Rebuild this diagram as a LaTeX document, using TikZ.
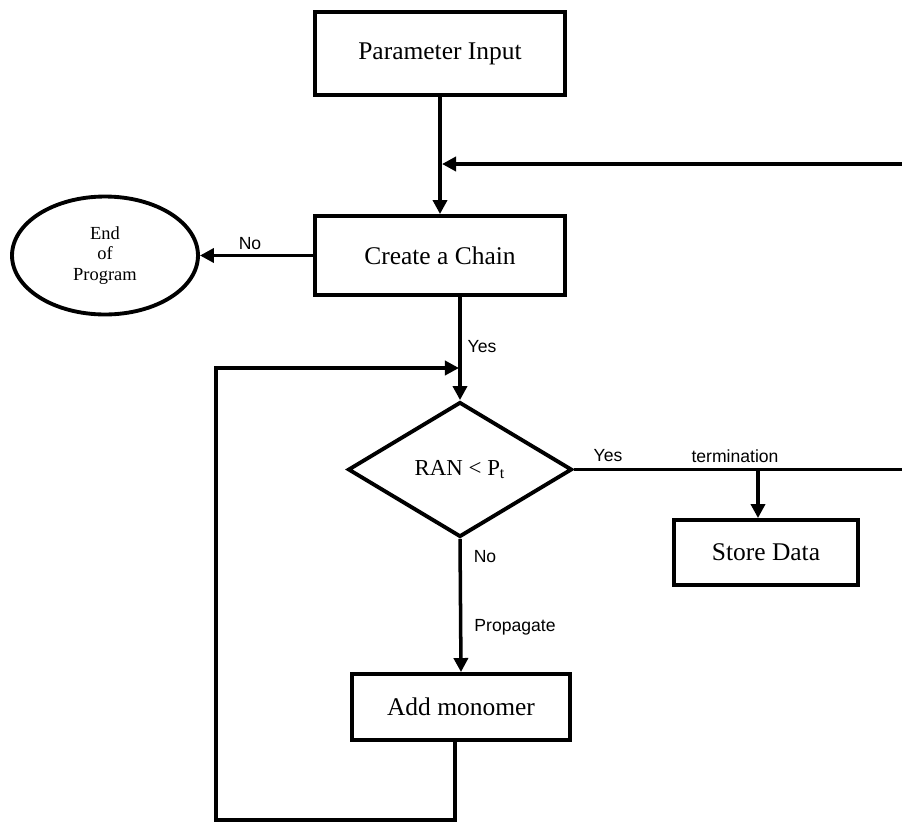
\documentclass[tikz,border=0pt]{standalone}
\usepackage{fontspec}
\setmainfont{Liberation Serif}
\newfontfamily\labelfont{Liberation Sans}
\usetikzlibrary{shapes.geometric,arrows.meta}
\begin{document}
\begin{tikzpicture}[x=0.02cm,y=-0.02cm,
  box/.style={draw, line width=2.2pt, inner sep=0pt, font=\fontsize{14.5}{16}\selectfont},
  conn/.style={line width=2pt},
  arr/.style={conn, -{Triangle[length=8pt,width=8pt]}},
  lab/.style={font=\labelfont\fontsize{10}{12}\selectfont, inner sep=0pt}]
\useasboundingbox (0,0) rectangle (902,825);
% nodes
\node[box, minimum width=5cm, minimum height=1.66cm] (pin) at (440,53.5) {Parameter Input};
\node[box, minimum width=5cm, minimum height=1.58cm] (chain) at (440,255.5) {Create a Chain};
\node[box, ellipse, minimum width=3.72cm, minimum height=2.36cm, align=center,
      font=\fontsize{10.5}{11.5}\selectfont] (endp) at (105,255.5) {End\\of\\Program};
\node[box, diamond, minimum width=4.48cm, minimum height=2.7cm,
      font=\fontsize{13}{15}\selectfont] (dec) at (460,469.5) {RAN < P\textsubscript{t}};
\node[box, minimum width=3.68cm, minimum height=1.3cm] (store) at (766,552.5) {Store Data};
\node[box, minimum width=4.36cm, minimum height=1.32cm] (add) at (461,707) {Add monomer};
% coordinates
\coordinate (fbR) at (902,164);
\coordinate (fbT) at (442,164);
\coordinate (termR) at (902,469.5);
\coordinate (tj) at (758,469.5);
\coordinate (lpA) at (455,820);
\coordinate (lpB) at (216,820);
\coordinate (lpC) at (216,368);
\coordinate (lpT) at (459,368);
% connectors
\draw[arr] (pin.south) -- (chain.north);
\draw[arr] (fbR) -- (fbT);
\draw[arr] (chain.west) -- (endp.east);
\draw[arr] (chain.south -| dec.north) -- (dec.north);
\draw[conn] (dec.east) -- (termR);
\draw[arr] (tj) -- (tj |- store.north);
\draw[arr] (dec.south) -- (add.north);
\draw[arr] (add.south -| lpA) -- (lpA) -- (lpB) -- (lpC) -- (lpT);
% labels
\node[lab] (lno1) at (250,244) {No};
\node[lab] (lyes1) at (482,347) {Yes};
\node[lab] (lyes2) at (608,456) {Yes};
\node[lab] (lterm) at (735,456) {termination};
\node[lab] (lno2) at (485,557) {No};
\node[lab] (lprop) at (515,627) {Propagate};
\end{tikzpicture}
\end{document}
